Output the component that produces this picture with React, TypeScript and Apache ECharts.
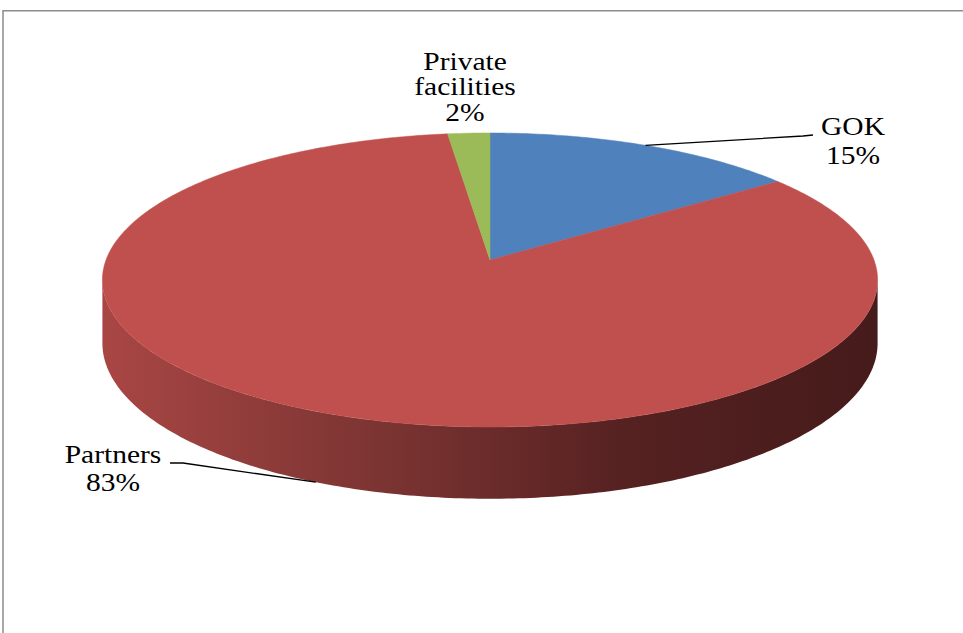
import React, { useEffect, useRef } from "react";
import * as echarts from "echarts";

// ---- data ----
const categories: string[] = ["GOK", "Partners", "Private facilities"];
const values: number[] = [15, 83, 2];

// ---- styling / layout (not data) ----
const topColors = ["#4f81bd", "#c0504d", "#9bbb59"];
const sideStops = [
  ["#a84644", "#7b3432", "#552121", "#461b1b"],
  ["#a84644", "#7b3432", "#552121", "#461b1b"],
  ["#7e9a45", "#62783a", "#4a5a2c", "#3b4824"],
];
const sideColorStops = (i: number) =>
  [0, 0.36, 0.68, 1].map((o, k) => ({ offset: o, color: sideStops[i][k] }));

const CX = 490; // apex x
const CY = 260; // apex y (projected centre)
const R = 384; // horizontal radius
const A = 144.3; // vertical radius factor
const K = 0.136; // perspective factor
const D = 62; // thickness
const FONT = "'Liberation Serif', 'Times New Roman', serif";

const labelLayout = [
  { x: 853, y: 141, lineHeight: 29, leader: [[803, 136], [813, 135]], wrap: false },
  { x: 113, y: 469, lineHeight: 28, leader: [[183, 463], [170, 463]], wrap: false },
  { x: 465, y: 87, lineHeight: 25.5, leader: null as number[][] | null, wrap: true },
];

function proj(theta: number, drop = 0): number[] {
  const t = (theta * Math.PI) / 180;
  const u = Math.sin(t);
  const v = -Math.cos(t);
  const s = 1 / (1 - K * v);
  return [CX + R * u * s, CY + A * v * s + drop * s];
}

function arc(a: number, b: number, drop = 0): number[][] {
  const pts: number[][] = [];
  const n = Math.max(2, Math.ceil(Math.abs(b - a) / 0.75));
  for (let i = 0; i <= n; i++) pts.push(proj(a + ((b - a) * i) / n, drop));
  return pts;
}

const THETA_L = (Math.acos(-K) * 180) / Math.PI; // ~97.8
const THETA_R = 360 - THETA_L;

export default function App() {
  const ref = useRef<HTMLDivElement>(null);

  useEffect(() => {
    if (!ref.current) return;
    const chart = echarts.init(ref.current, undefined, { renderer: "svg" });
    const total = values.reduce((a, b) => a + b, 0);
    const starts: number[] = [];
    let acc = 0;
    values.forEach((v) => {
      starts.push((acc / total) * 360);
      acc += v;
    });

    const renderItem = (params: any, api: any) => {
      const i = params.dataIndex;
      const val = api.value(0);
      const a0 = starts[i];
      const a1 = a0 + (val / total) * 360;
      const children: any[] = [];

      // side (front-facing wall)
      const sa = Math.max(a0, THETA_L);
      const sb = Math.min(a1, THETA_R);
      if (sb > sa) {
        const topArc = arc(sa, sb, 0);
        const botArc = arc(sb, sa, D);
        children.push({
          type: "polygon",
          shape: { points: topArc.concat(botArc) },
          style: {
            fill: {
              type: "linear",
              x: CX - R,
              y: 0,
              x2: CX + R,
              y2: 0,
              global: true,
              colorStops: sideColorStops(i),
            },
            stroke: "none",
          },
        });
      }

      // top face
      children.push({
        type: "polygon",
        shape: { points: [[CX, CY]].concat(arc(a0, a1, 0)) },
        style: { fill: topColors[i], stroke: topColors[i], lineWidth: 0.5 },
      });

      // label + leader
      const lay = labelLayout[i];
      const mid = (a0 + a1) / 2;
      if (lay.leader) {
        const onSide = mid > THETA_L && mid < THETA_R;
        const anchor = proj(mid, onSide ? D : 0);
        children.push({
          type: "polyline",
          shape: { points: [anchor, ...lay.leader] },
          style: { stroke: "#000", lineWidth: 1.3, fill: "none" },
        });
      }
      const name = lay.wrap ? categories[i].replace(/ /g, "\n") : categories[i];
      const pct = Math.round((val / total) * 100) + "%";
      children.push({
        type: "text",
        x: lay.x,
        y: lay.y,
        scaleX: 1.18,
        style: {
          text: name + "\n" + pct,
          align: "center",
          verticalAlign: "middle",
          fontFamily: FONT,
          fontSize: 25,
          lineHeight: lay.lineHeight,
          fill: "#000",
        },
      });

      return { type: "group", children };
    };

    chart.setOption({
      animation: false,
      backgroundColor: "#ffffff",
      graphic: [
        {
          type: "rect",
          shape: { x: 3, y: 10.75, width: 1000, height: 700 },
          style: { fill: "none", stroke: "#8c8c8c", lineWidth: 1.5 },
          z: 0,
        },
      ],
      series: [
        {
          type: "custom",
          coordinateSystem: "none",
          silent: true,
          data: values.map((v, i) => ({ name: categories[i], value: [v] })),
          renderItem,
        },
      ],
    });

    return () => chart.dispose();
  }, []);

  return (
    <div
      ref={ref}
      style={{ position: "fixed", left: 0, top: 0, width: 963, height: 633 }}
    />
  );
}
